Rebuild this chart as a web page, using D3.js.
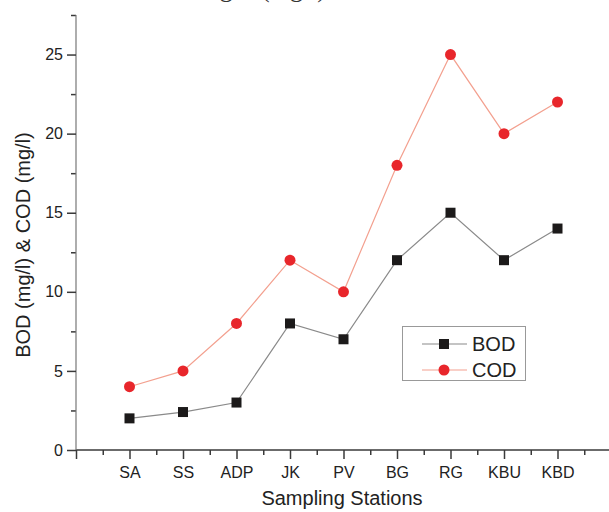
<!DOCTYPE html>
<html>
<head>
<meta charset="utf-8">
<script src="https://cdn.jsdelivr.net/npm/d3@7"></script>
<style>
  body { margin: 0; background: #fff; }
  svg { display: block; font-family: "Liberation Sans", Arial, sans-serif; }
</style>
</head>
<body>
<svg id="chart" width="609" height="512"></svg>
<script>
// data
var stations = ["SA", "SS", "ADP", "JK", "PV", "BG", "RG", "KBU", "KBD"];
var bod = [2, 2.4, 3, 8, 7, 12, 15, 12, 14];
var cod = [4, 5, 8, 12, 10, 18, 25, 20, 22];
var yMajorTicks = [0, 5, 10, 15, 20, 25];

var svg = d3.select("#chart");
var axisColor = "#3a3a3a";

var x = d3.scaleLinear().domain([0, 10]).range([76, 611]);
var y = d3.scaleLinear().domain([0, 27.5]).range([450, 15]);

// caption cut off at the top of the page (only descenders show)
svg.append("text")
   .attr("x", 326)
   .attr("y", -3)
   .attr("text-anchor", "end")
   .style("font", "26px 'Liberation Serif', serif")
   .style("fill", "#333")
   .text("Ranges (mg/l)");

// minor ticks first, then the major axes
var xMinor = d3.range(0.5, 10, 1);
svg.append("g")
   .attr("transform", "translate(0,450)")
   .call(d3.axisBottom(x).tickValues(xMinor).tickSize(5).tickFormat(""))
   .call(function(g) { g.select(".domain").remove(); })
   .selectAll("line").attr("stroke", axisColor).attr("stroke-width", 1.5);

var yMinor = d3.range(2.5, 28, 5);
svg.append("g")
   .attr("transform", "translate(76,0)")
   .call(d3.axisLeft(y).tickValues(yMinor).tickSize(5).tickFormat(""))
   .call(function(g) { g.select(".domain").remove(); })
   .selectAll("line").attr("stroke", axisColor).attr("stroke-width", 1.5);

var xAxis = d3.axisBottom(x)
              .tickValues(d3.range(0, 10))
              .tickSize(9)
              .tickPadding(8)
              .tickFormat(function(d) { return d === 0 ? "" : stations[d - 1]; });

var gx = svg.append("g")
            .attr("transform", "translate(0,450)")
            .call(xAxis);
gx.select(".domain").attr("stroke", axisColor).attr("stroke-width", 1.5)
  .attr("d", "M" + x(0) + ",0H609");
gx.selectAll("line").attr("stroke", axisColor).attr("stroke-width", 1.5);
gx.selectAll("text").style("font-size", "16px").style("fill", "#222")
  .style("font-family", "'Liberation Sans', Arial, sans-serif");

var yAxis = d3.axisLeft(y)
              .tickValues(yMajorTicks)
              .tickSize(9)
              .tickPadding(4);

var gy = svg.append("g")
            .attr("transform", "translate(76,0)")
            .call(yAxis);
gy.select(".domain").attr("stroke", "#777").attr("stroke-width", 1.2)
  .attr("d", "M0," + y(0) + "V" + y(27.5));
gy.selectAll("line").attr("stroke", axisColor).attr("stroke-width", 1.5);
gy.selectAll("text").style("font-size", "16px").style("fill", "#222")
  .style("font-family", "'Liberation Sans', Arial, sans-serif");

// axis titles
svg.append("text")
   .attr("x", 342)
   .attr("y", 505)
   .attr("text-anchor", "middle")
   .style("font-size", "20px")
   .style("fill", "#222")
   .text("Sampling Stations");

svg.append("text")
   .attr("transform", "translate(30,245) rotate(-90)")
   .attr("text-anchor", "middle")
   .style("font-size", "20px")
   .style("fill", "#222")
   .text("BOD (mg/l) & COD (mg/l)");

// lines
var line = d3.line()
             .x(function(d, i) { return x(i + 1); })
             .y(function(d) { return y(d); });

svg.append("path")
   .datum(cod)
   .attr("fill", "none")
   .attr("stroke", "#f3a08f")
   .attr("stroke-width", 1.2)
   .attr("d", line);

svg.append("path")
   .datum(bod)
   .attr("fill", "none")
   .attr("stroke", "#8a8a8a")
   .attr("stroke-width", 1.2)
   .attr("d", line);

// markers
svg.append("g").selectAll("circle")
   .data(cod)
   .enter().append("circle")
   .attr("cx", function(d, i) { return x(i + 1); })
   .attr("cy", function(d) { return y(d); })
   .attr("r", 5.5)
   .attr("fill", "#e8262b");

svg.append("g").selectAll("rect")
   .data(bod)
   .enter().append("rect")
   .attr("x", function(d, i) { return x(i + 1) - 5; })
   .attr("y", function(d) { return y(d) - 5; })
   .attr("width", 10)
   .attr("height", 10)
   .attr("fill", "#1c1a1a");

// legend
var legend = svg.append("g");
legend.append("rect")
      .attr("x", 402.5).attr("y", 326.5)
      .attr("width", 123).attr("height", 54)
      .attr("fill", "#fff")
      .attr("stroke", "#999");

var legendItems = [
  { name: "BOD", color: "#8a8a8a", mark: "square", yPos: 344 },
  { name: "COD", color: "#f3a08f", mark: "circle", yPos: 370 }
];

legendItems.forEach(function(item) {
  legend.append("line")
        .attr("x1", 422).attr("x2", 467)
        .attr("y1", item.yPos).attr("y2", item.yPos)
        .attr("stroke", item.color)
        .attr("stroke-width", 1.2);
  if (item.mark === "square") {
    legend.append("rect")
          .attr("x", 444 - 5).attr("y", item.yPos - 5)
          .attr("width", 10).attr("height", 10)
          .attr("fill", "#1c1a1a");
  } else {
    legend.append("circle")
          .attr("cx", 444).attr("cy", item.yPos)
          .attr("r", 5.5)
          .attr("fill", "#e8262b");
  }
  legend.append("text")
        .attr("x", 472)
        .attr("y", item.yPos + 7)
        .style("font-size", "20px")
        .style("fill", "#222")
        .text(item.name);
});
</script>
</body>
</html>
